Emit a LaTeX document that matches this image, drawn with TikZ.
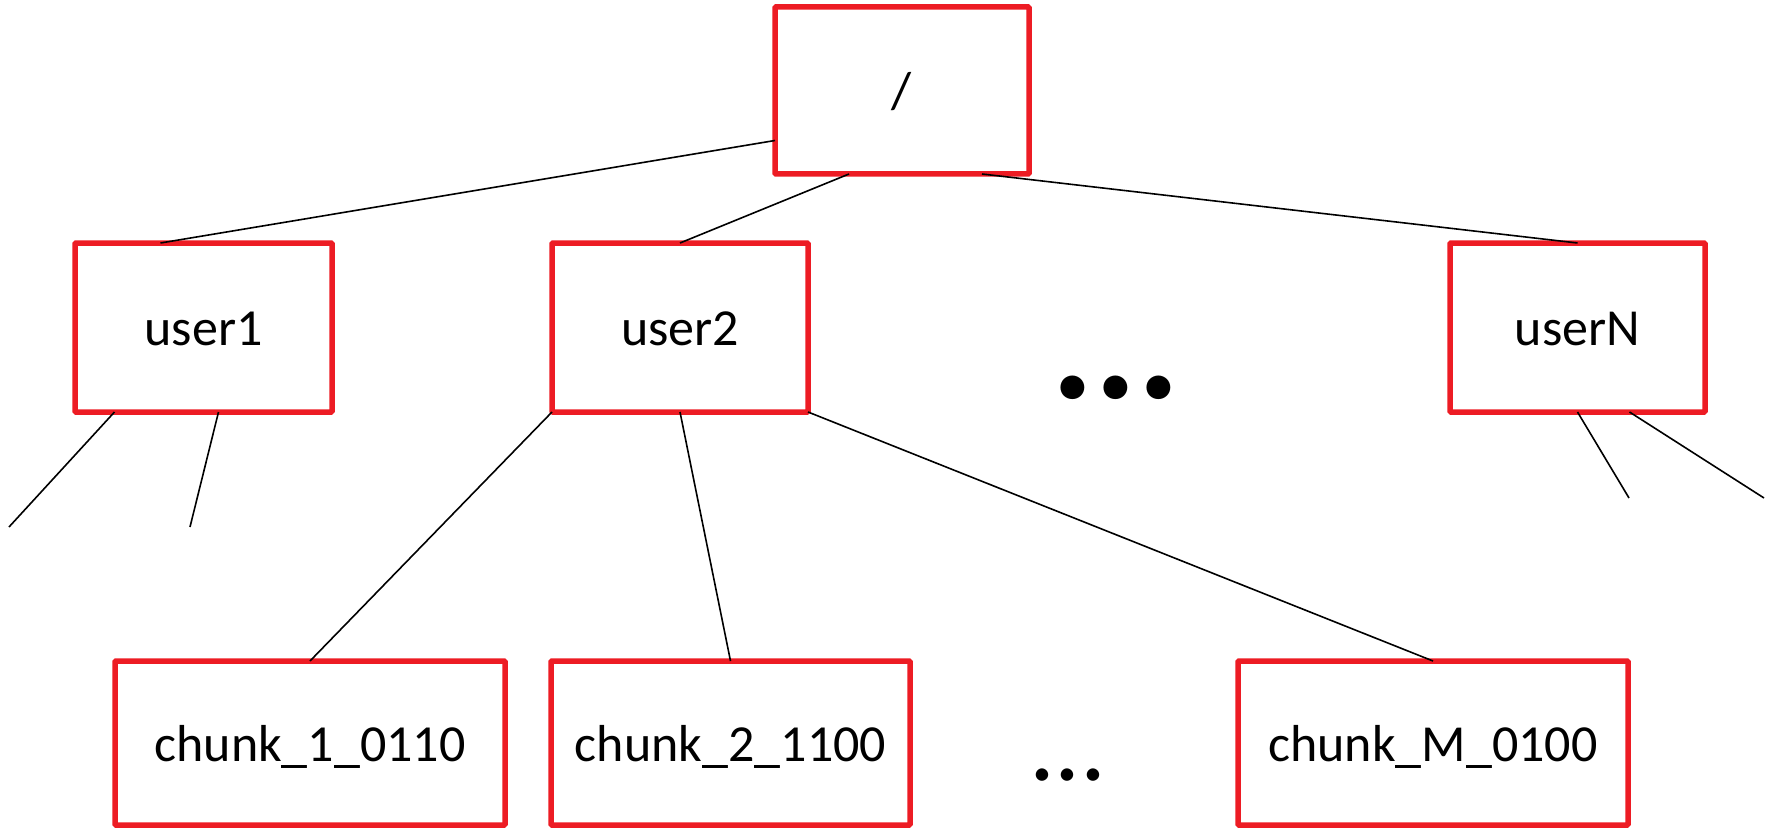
\documentclass[tikz,border=0pt]{standalone}
\usepackage{fontspec}
\setmainfont{Carlito}
\definecolor{boxred}{RGB}{237,28,36}
\begin{document}
\begin{tikzpicture}[x=1pt,y=-1pt,
  box/.style={draw=boxred, line width=5.5pt, rounded corners=1pt, outer sep=0pt, inner sep=0pt,
    font=\fontsize{52}{60}\selectfont, text height=36pt, text depth=0pt, anchor=center},
  conn/.style={draw=black, line width=1.6pt}]
\useasboundingbox (0,0) rectangle (1771,829);
\node[box, minimum width=254pt, minimum height=167pt] (root) at (902,90.5) {/};
\node[box, minimum width=257pt, minimum height=169pt] (user1) at (203.5,327.5) {user1};
\node[box, minimum width=256pt, minimum height=169pt] (user2) at (680,327.5) {user2};
\node[box, minimum width=255pt, minimum height=169pt] (userN) at (1577.5,327.5) {userN};
\node[box, minimum width=390pt, minimum height=164pt] (chunk1) at (310,743) {chunk\_1\_0110};
\node[box, minimum width=359pt, minimum height=164pt] (chunk2) at (730.5,743) {chunk\_2\_1100};
\node[box, minimum width=390pt, minimum height=164pt] (chunkM) at (1433,743) {chunk\_M\_0100};
\node[anchor=base, inner sep=0pt, font=\bfseries\fontsize{160}{160}\selectfont] (dotsA) at (1116,398) {...};
\node[anchor=base, inner sep=0pt, font=\fontsize{103}{103}\selectfont] (dotsB) at (1068,780) {...};
\coordinate (u1a) at (9,527);
\coordinate (u1b) at (190,527);
\coordinate (uNa) at (1629,498);
\coordinate (uNb) at (1764,498);
\draw[conn] ([yshift=-50pt]root.west) -- ([xshift=-43pt]user1.north);
\draw[conn] ([xshift=-53pt]root.south) -- (user2.north);
\draw[conn] ([xshift=80pt]root.south) -- (userN.north);
\draw[conn] ([xshift=-89pt]user1.south) -- (u1a);
\draw[conn] ([xshift=15pt]user1.south) -- (u1b);
\draw[conn] (user2.south west) -- (chunk1.north);
\draw[conn] (user2.south) -- (chunk2.north);
\draw[conn] (user2.south east) -- (chunkM.north);
\draw[conn] (userN.south) -- (uNa);
\draw[conn] ([xshift=52pt]userN.south) -- (uNb);
\end{tikzpicture}
\end{document}
